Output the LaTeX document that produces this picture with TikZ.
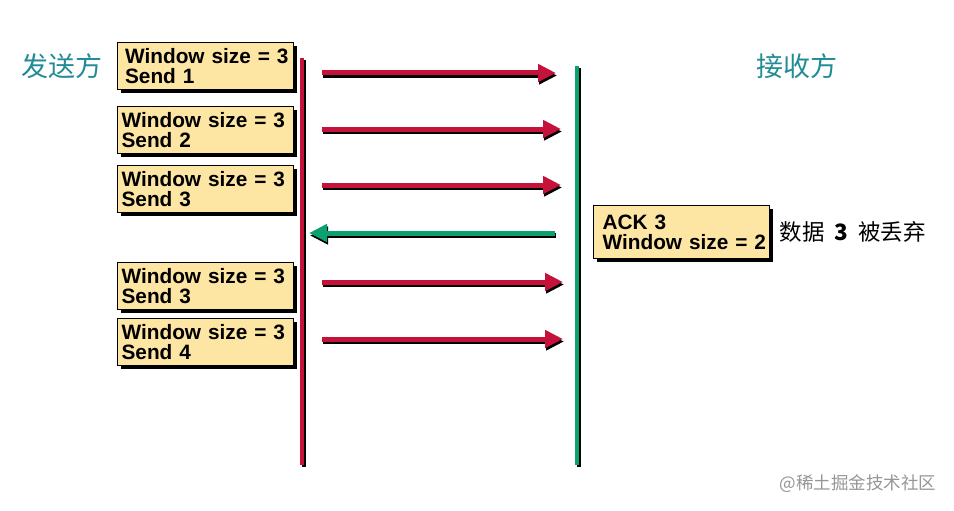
\documentclass[tikz,border=0pt]{standalone}
\usepackage{fontspec}
\setmainfont{Liberation Sans}
\newfontfamily\cjk{Noto Sans CJK SC}
\usetikzlibrary{arrows.meta,shadows}
\definecolor{boxfill}{RGB}{253,229,163}
\definecolor{sred}{RGB}{196,18,58}
\definecolor{rgreen}{RGB}{10,160,112}
\definecolor{labteal}{RGB}{34,140,150}
\definecolor{wmgray}{RGB}{150,150,150}
\begin{document}
\begin{tikzpicture}[x=1pt,y=-1pt,
  msgbox/.style={draw=black, line width=1.2pt, fill=boxfill, anchor=north west,
    minimum width=176pt, minimum height=47pt, text width=168pt, align=left,
    inner sep=4pt, font=\fontsize{20.8}{19.5}\selectfont\bfseries,
    drop shadow={shadow xshift=3pt, shadow yshift=-3pt, fill=black, opacity=1}},
  life/.style={line width=4pt},
  lifeshadow/.style={line width=4pt, black},
  msg/.style={line width=5pt, -{Triangle[length=18pt,width=17pt]}},
  msgshadow/.style={msg, black},
  side/.style={font=\cjk\fontsize{27}{27}\selectfont, text=labteal}
]
\useasboundingbox (0,0) rectangle (954,511);
\fill[white] (0,0) rectangle (954,511);

% lifelines
\coordinate (st) at (302,58);
\coordinate (sb) at (302,465);
\coordinate (rt) at (577,66);
\coordinate (rb) at (577,465);
\draw[lifeshadow] ([shift={(2pt,-2pt)}]st) -- ([shift={(2pt,-2pt)}]sb);
\draw[life, sred] (st) -- (sb);
\draw[lifeshadow] ([shift={(2pt,-2pt)}]rt) -- ([shift={(2pt,-2pt)}]rb);
\draw[life, rgreen] (rt) -- (rb);

% side labels
\node[side] (sender) at (62,66) {发送方};
\node[side] (receiver) at (797,66) {接收方};

% boxes
\node[msgbox] (b1) at (117,42) {\hspace*{3.5pt}\rlap{Window size = 3}\\\hspace*{3.5pt}\rlap{Send 1}};
\node[msgbox] (b2) at (117,106) {Window size = 3\\Send 2};
\node[msgbox] (b3) at (117,165) {Window size = 3\\Send 3};
\node[msgbox] (b4) at (117,262) {Window size = 3\\Send 3};
\node[msgbox] (b5) at (117,318) {Window size = 3\\Send 4};
\node[msgbox, minimum height=53pt] (ack) at (593,205) {\hspace*{5pt}\rlap{ACK 3}\\\hspace*{5pt}\rlap{Window size = 2}};

\node[font=\cjk\fontsize{22.5}{22.5}\selectfont, anchor=west] (drop) at (776,232) {数据\hspace{0.45em}\textbf{3}\hspace{0.45em}被丢弃};

% arrow endpoints
\coordinate (a1s) at (322,73);  \coordinate (a1e) at (556,73);
\coordinate (a2s) at (322,129); \coordinate (a2e) at (561,129);
\coordinate (a3s) at (322,185); \coordinate (a3e) at (561,185);
\coordinate (a4s) at (555,233); \coordinate (a4e) at (309,233);
\coordinate (a5s) at (322,282); \coordinate (a5e) at (563,282);
\coordinate (a6s) at (322,339); \coordinate (a6e) at (563,339);

\foreach \s/\e/\c in {a1s/a1e/sred,a2s/a2e/sred,a3s/a3e/sred,a4s/a4e/rgreen,a5s/a5e/sred,a6s/a6e/sred}{
  \draw[msgshadow] ([shift={(1pt,-2.5pt)}]\s) -- ([shift={(1pt,-2.5pt)}]\e);
  \draw[msg, \c] (\s) -- (\e);
}

% watermark
\node[font=\cjk\fontsize{17.5}{17.5}\selectfont, text=wmgray] (wm) at (858,484) {@稀土掘金技术社区};
\end{tikzpicture}
\end{document}
